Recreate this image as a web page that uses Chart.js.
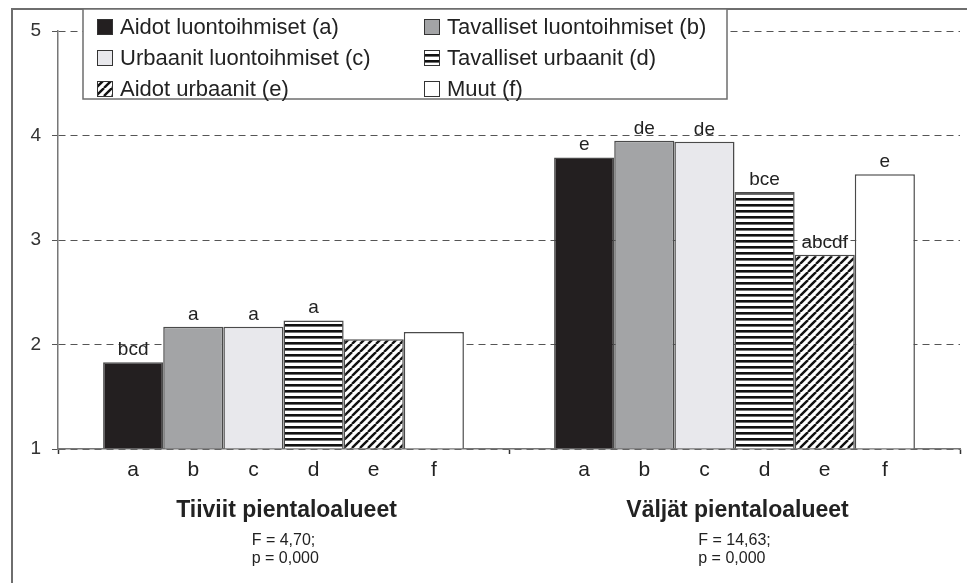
<!DOCTYPE html>
<html>
<head>
<meta charset="utf-8">
<script src="https://cdn.jsdelivr.net/npm/chart.js@4/dist/chart.umd.min.js"></script>
<style>
  body { margin: 0; background: #fff; }
  #wrap { position: absolute; left: 0; top: 0; width: 967px; height: 583px; }
</style>
</head>
<body>
<div id="wrap"><canvas id="kuva" width="967" height="583"></canvas></div>
<script>
// area types on the x axis
const groups = ['Tiiviit pientaloalueet', 'Väljät pientaloalueet'];
const groupStats = [['F = 4,70;', 'p = 0,000'], ['F = 14,63;', 'p = 0,000']];

// respondent groups (series)
const seriesNames = [
  'Aidot luontoihmiset (a)',
  'Tavalliset luontoihmiset (b)',
  'Urbaanit luontoihmiset (c)',
  'Tavalliset urbaanit (d)',
  'Aidot urbaanit (e)',
  'Muut (f)'
];
const seriesCodes = ['a', 'b', 'c', 'd', 'e', 'f'];

// mean values per series: [tiiviit, väljät]
const aidotLuonto = [1.83, 3.79];
const tavallisetLuonto = [2.17, 3.95];
const urbaanitLuonto = [2.17, 3.94];
const tavallisetUrbaanit = [2.23, 3.46];
const aidotUrbaanit = [2.05, 2.86];
const muut = [2.12, 3.63];

// significance letters above the bars
const sigA = ['bcd', 'e'];
const sigB = ['a', 'de'];
const sigC = ['a', 'de'];
const sigD = ['a', 'bce'];
const sigE = ['', 'abcdf'];
const sigF = ['', 'e'];

const yTicks = [1, 2, 3, 4, 5];

const FONT = "'Liberation Sans', Arial, sans-serif";

// fill patterns
function stripePattern() {
  const c = document.createElement('canvas');
  c.width = 6; c.height = 6;
  const g = c.getContext('2d');
  g.fillStyle = '#fff';
  g.fillRect(0, 0, 6, 6);
  g.fillStyle = '#111';
  g.fillRect(0, 0, 6, 2.6);
  return g.createPattern(c, 'repeat');
}

function diagonalPattern() {
  const s = 8;
  const c = document.createElement('canvas');
  c.width = s; c.height = s;
  const g = c.getContext('2d');
  g.fillStyle = '#fff';
  g.fillRect(0, 0, s, s);
  g.strokeStyle = '#111';
  g.lineWidth = 2.4;
  for (const k of [-s, 0, s]) {
    g.beginPath();
    g.moveTo(k, s);
    g.lineTo(k + s, 0);
    g.stroke();
  }
  return g.createPattern(c, 'repeat');
}

const fills = ['#231f20', '#a3a4a6', '#e8e8ec', stripePattern(), diagonalPattern(), '#ffffff'];
const seriesValues = [aidotLuonto, tavallisetLuonto, urbaanitLuonto, tavallisetUrbaanit, aidotUrbaanit, muut];
const seriesSig = [sigA, sigB, sigC, sigD, sigE, sigF];

const datasets = seriesNames.map((name, i) => ({
  label: name,
  data: seriesValues[i],
  backgroundColor: fills[i],
  borderColor: '#4a4a4a',
  borderWidth: 1.5,
  base: 1,
  categoryPercentage: 0.8,
  barPercentage: 1.0
}));

// frame around the figure
const framePlugin = {
  id: 'frame',
  beforeDraw(chart) {
    const ctx = chart.ctx;
    ctx.save();
    ctx.fillStyle = '#fff';
    ctx.fillRect(0, 0, chart.width, chart.height);
    ctx.strokeStyle = '#6e6e6e';
    ctx.lineWidth = 2;
    ctx.beginPath();
    ctx.moveTo(12, chart.height);
    ctx.lineTo(12, 9);
    ctx.lineTo(chart.width, 9);
    ctx.stroke();
    ctx.restore();
  }
};

// letters above / below bars and group captions
const textPlugin = {
  id: 'texts',
  afterDatasetsDraw(chart) {
    const ctx = chart.ctx;
    const xs = chart.scales.x;
    ctx.save();
    ctx.fillStyle = '#222';
    ctx.textAlign = 'center';
    ctx.textBaseline = 'alphabetic';
    chart.data.datasets.forEach((ds, i) => {
      const meta = chart.getDatasetMeta(i);
      meta.data.forEach((bar, j) => {
        ctx.font = '19px ' + FONT;
        const s = seriesSig[i][j];
        if (s) ctx.fillText(s, bar.x, bar.y - 7);
        ctx.font = '21px ' + FONT;
        ctx.fillText(seriesCodes[i], bar.x, 476);
      });
    });
    groups.forEach((g, j) => {
      const cx = xs.getPixelForValue(j);
      ctx.textAlign = 'center';
      ctx.font = 'bold 23px ' + FONT;
      ctx.fillText(g, cx + 3, 517);
      ctx.font = '16px ' + FONT;
      const lines = groupStats[j];
      const w = ctx.measureText(lines[0]).width;
      ctx.textAlign = 'left';
      lines.forEach((ln, k) => ctx.fillText(ln, cx - w / 2, 545 + k * 18));
    });
    ctx.restore();
  },
  afterDraw(chart) {
    // legend box, two columns
    const ctx = chart.ctx;
    ctx.save();
    ctx.fillStyle = '#fff';
    ctx.fillRect(83, 9, 644, 90);
    ctx.strokeStyle = '#6e6e6e';
    ctx.lineWidth = 1.5;
    ctx.strokeRect(83, 9, 644, 90);
    const colX = [97, 424];
    const rowY = [27, 58, 89];
    chart.data.datasets.forEach((ds, i) => {
      const x = colX[i % 2];
      const y = rowY[Math.floor(i / 2)];
      ctx.fillStyle = ds.backgroundColor;
      ctx.fillRect(x, y - 8, 16, 16);
      ctx.strokeStyle = '#333';
      ctx.lineWidth = 1;
      ctx.strokeRect(x + 0.5, y - 7.5, 15, 15);
      ctx.fillStyle = '#222';
      ctx.font = '22px ' + FONT;
      ctx.textAlign = 'left';
      ctx.textBaseline = 'middle';
      ctx.fillText(ds.label, x + 23, y + 1);
    });
    ctx.restore();
  }
};

new Chart(document.getElementById('kuva'), {
  type: 'bar',
  data: { labels: groups, datasets: datasets },
  options: {
    responsive: false,
    devicePixelRatio: 1,
    animation: false,
    layout: { padding: { top: 31, right: 7, left: 0, bottom: 0 } },
    plugins: { legend: { display: false }, tooltip: { enabled: false } },
    scales: {
      x: {
        ticks: { display: false },
        grid: { drawOnChartArea: false, drawTicks: true, tickLength: 5, tickColor: '#333', tickWidth: 1.5 },
        border: { color: '#777', width: 1.5 },
        afterFit(scale) { scale.height = 134; }
      },
      y: {
        min: yTicks[0],
        max: yTicks[yTicks.length - 1],
        afterBuildTicks(scale) { scale.ticks = yTicks.map(v => ({ value: v })); },
        ticks: { color: '#333', font: { family: FONT, size: 19 }, padding: 11 },
        grid: { color: '#555', lineWidth: 1, tickLength: 6, tickColor: '#555' },
        border: { color: '#777', width: 1.5, dash: [7, 5] },
        afterFit(scale) { scale.width = 58; }
      }
    }
  },
  plugins: [framePlugin, textPlugin]
});
</script>
</body>
</html>
